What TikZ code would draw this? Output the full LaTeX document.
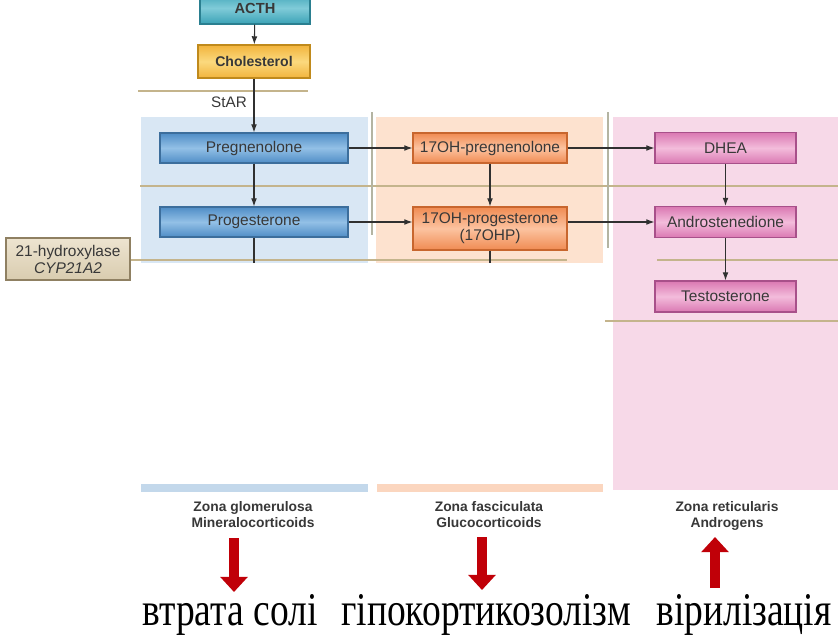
\documentclass[tikz,border=0pt]{standalone}
\usepackage{fontspec}
\setsansfont{Liberation Sans}
\newfontfamily\ukrfont{Liberation Serif}
\usetikzlibrary{arrows.meta}

\definecolor{zblue}{HTML}{D9E7F4}
\definecolor{zorange}{HTML}{FDE2CF}
\definecolor{zpink}{HTML}{F7D9E8}
\definecolor{barblue}{HTML}{C3D8EB}
\definecolor{barorange}{HTML}{FBD6BF}
\definecolor{tanline}{HTML}{C4B48C}
\definecolor{vline}{HTML}{B4B4A2}
\definecolor{boxtext}{HTML}{383838}
\definecolor{arrgrey}{HTML}{303030}
\definecolor{bedge}{HTML}{3C6E9C}
\definecolor{bout}{HTML}{4F8DC6}
\definecolor{bin}{HTML}{93C0E6}
\definecolor{oedge}{HTML}{C8662E}
\definecolor{oout}{HTML}{F08B52}
\definecolor{oin}{HTML}{FCC3A0}
\definecolor{pedge}{HTML}{A8508A}
\definecolor{pout}{HTML}{DA78B2}
\definecolor{pin}{HTML}{F3BCDB}
\definecolor{tedge}{HTML}{2A7F90}
\definecolor{tout}{HTML}{3AA2B6}
\definecolor{tin}{HTML}{80CBD8}
\definecolor{yedge}{HTML}{C08A1C}
\definecolor{yout}{HTML}{F2B43C}
\definecolor{yin}{HTML}{FBD97E}
\definecolor{hedge}{HTML}{8F8062}
\definecolor{hfill}{HTML}{D9CCAF}
\definecolor{hlight}{HTML}{EDE4D0}
\definecolor{darkred}{HTML}{C00008}

\tikzset{
  stepbox/.style={draw, line width=0.9pt, inner sep=0pt, align=center,
    font=\sffamily\fontsize{13.2}{14.5}\selectfont, text=boxtext},
  bluebox/.style={stepbox, draw=bedge, top color=bout, bottom color=bout, middle color=bin,
    minimum width=56.4mm, minimum height=9mm},
  orangebox/.style={stepbox, draw=oedge, top color=oout, bottom color=oout, middle color=oin,
    minimum width=46.2mm, minimum height=9mm},
  pinkbox/.style={stepbox, draw=pedge, top color=pout, bottom color=pout, middle color=pin,
    minimum width=42.3mm, minimum height=9.3mm},
  flow/.style={draw=arrgrey, line width=0.9pt, -{Latex[length=7pt,width=5pt]}},
  stub/.style={draw=arrgrey, line width=0.9pt},
  tan/.style={draw=tanline, line width=1.4pt},
  divider/.style={draw=vline, line width=1.3pt},
  zonelbl/.style={anchor=north, align=center, text=boxtext, font=\sffamily\bfseries\fontsize{11.8}{14}\selectfont},
  redarrow/.style={draw=darkred, line width=8.5pt, -{Triangle[length=13pt,width=23pt]}},
  ukr/.style={anchor=base, font=\ukrfont\fontsize{32}{32}\selectfont}
}

\begin{document}
\begin{tikzpicture}[x=0.3mm,y=-0.3mm]
\path[use as bounding box] (0,0) rectangle (838,636);
\clip (0,0) rectangle (838,636);

% zones
\fill[zblue] (141,117) rectangle (368,263);
\fill[zorange] (376,117) rectangle (603,263);
\fill[zpink] (613,117) rectangle (838,490);
\fill[barblue] (141,484) rectangle (368,492);
\fill[barorange] (377,484) rectangle (603,492);

% separators
\draw[tan] (138,91) -- (308,91);
\draw[tan] (140,186) -- (838,186);
\draw[tan] (130,260) -- (567,260);
\draw[tan] (657,260) -- (838,260);
\draw[tan] (605,321) -- (838,321);
\draw[divider] (372,112) -- (372,235);
\draw[divider] (608,112) -- (608,248);

% boxes
\node[stepbox, draw=tedge, top color=tout, bottom color=tout, middle color=tin,
  minimum width=33mm, minimum height=9.6mm, font=\sffamily\bfseries\fontsize{12.5}{14}\selectfont]
  (acth) at (255,8) {ACTH};
\node[stepbox, draw=yedge, top color=yout, bottom color=yout, middle color=yin,
  minimum width=33.6mm, minimum height=9.9mm, font=\sffamily\bfseries\fontsize{12}{14}\selectfont]
  (chol) at (254,61.5) {Cholesterol};
\node[text=boxtext, font=\sffamily\fontsize{13}{14}\selectfont] (star) at (229,102) {StAR};

\node[bluebox] (preg) at (254,148) {Pregnenolone};
\node[bluebox] (prog) at (254,222) {Progesterone};
\node[orangebox] (ohpreg) at (490,148) {17OH-pregnenolone};
\node[orangebox, minimum height=12.9mm] (ohprog) at (490,228.5) {17OH-progesterone\\(17OHP)};
\node[pinkbox] (dhea) at (725.5,148) {DHEA};
\node[pinkbox] (andro) at (725.5,222) {Androstenedione};
\node[pinkbox] (testo) at (725.5,296.5) {Testosterone};
\node[stepbox, draw=hedge, top color=hlight, bottom color=hfill,
  minimum width=37.2mm, minimum height=12.6mm] (hydro) at (68,259) {21-hydroxylase\\\textit{CYP21A2}};

% pathway
\draw[flow] (acth) -- (chol);
\draw[flow] (chol) -- (preg);
\draw[flow] (preg) -- (prog);
\draw[flow] (preg) -- (ohpreg);
\draw[flow] (prog) -- (ohprog.west |- prog);
\draw[flow] (ohpreg) -- (ohprog);
\draw[flow] (ohpreg) -- (dhea);
\draw[flow] (ohprog.east |- andro) -- (andro);
\draw[flow] (dhea) -- (andro);
\draw[flow] (andro) -- (testo);
\coordinate (progend) at (254,263);
\coordinate (ohprogend) at (490,263);
\draw[stub] (prog) -- (progend);
\draw[stub] (ohprog) -- (ohprogend);

% zone names
\node[zonelbl] (zg) at (253,497) {Zona glomerulosa\\Mineralocorticoids};
\node[zonelbl] (zf) at (489,497) {Zona fasciculata\\Glucocorticoids};
\node[zonelbl] (zr) at (727,497) {Zona reticularis\\Androgens};

% effects
\coordinate (r1a) at (234,538);
\coordinate (r1b) at (234,592);
\coordinate (r2a) at (482,537);
\coordinate (r2b) at (482,590);
\coordinate (r3a) at (715,588);
\coordinate (r3b) at (715,537);
\draw[redarrow] (r1a) -- (r1b);
\draw[redarrow] (r2a) -- (r2b);
\draw[redarrow] (r3a) -- (r3b);

\node[ukr] (salt) at (230,625) {\scalebox{1}[1.25]{втрата солі}};
\node[ukr] (hypo) at (486,625) {\scalebox{1}[1.25]{гіпокортикозолізм}};
\node[ukr] (viril) at (744,625) {\scalebox{1}[1.25]{вірилізація}};
\end{tikzpicture}
\end{document}
